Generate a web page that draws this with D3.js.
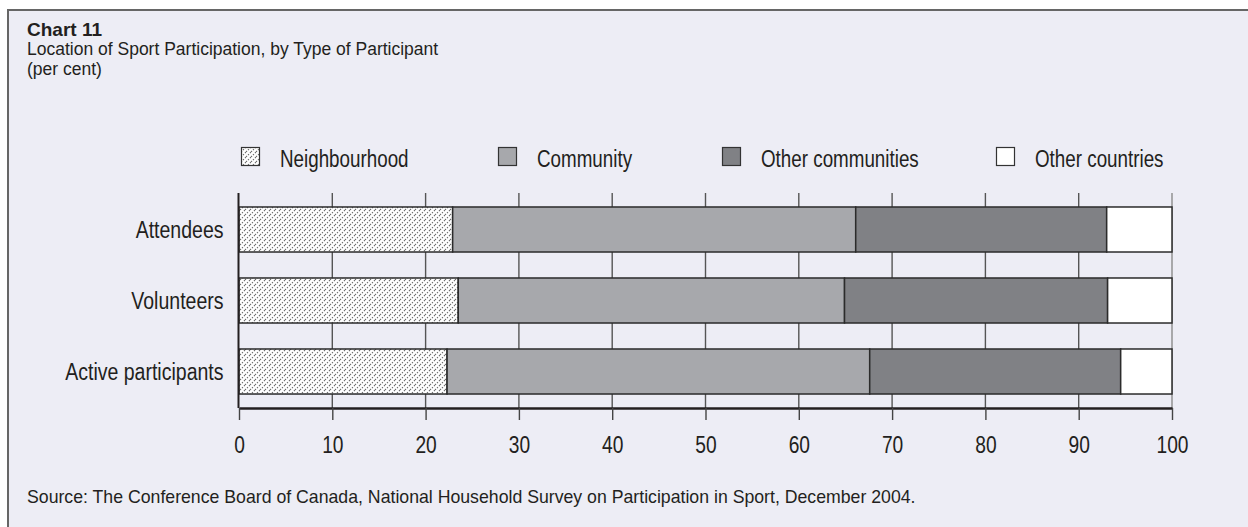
<!DOCTYPE html>
<html>
<head>
<meta charset="utf-8">
<script src="https://cdn.jsdelivr.net/npm/d3@7"></script>
<style>
  html, body { margin: 0; padding: 0; background: #fff; }
  svg { display: block; }
  text { font-family: "Liberation Sans", Arial, Helvetica, sans-serif; fill: #231f20; }
</style>
</head>
<body>
<svg id="chart" width="1248" height="527"></svg>
<script>
// Location of sport participation (per cent of each participant type)
const categories = ["Attendees", "Volunteers", "Active participants"];
const seriesNames = ["Neighbourhood", "Community", "Other communities", "Other countries"];
const neighbourhood    = [22.9, 23.5, 22.3];
const community        = [43.2, 41.4, 45.3];
const otherCommunities = [26.9, 28.2, 26.9];
const otherCountries   = [7.0, 6.9, 5.5];
const xTicks = [0, 10, 20, 30, 40, 50, 60, 70, 80, 90, 100];

const seriesValues = [neighbourhood, community, otherCommunities, otherCountries];
const fills = ["url(#hatch)", "#a7a8ac", "#808185", "#ffffff"];

const rows = categories.map((c, i) => {
  const r = { category: c };
  seriesNames.forEach((s, j) => { r[s] = seriesValues[j][i]; });
  return r;
});
const stacked = d3.stack().keys(seriesNames)(rows);

// Squeeze text horizontally to imitate a condensed typeface
function condense(sel, factor) {
  sel.each(function () {
    const w = this.getComputedTextLength();
    d3.select(this).attr("textLength", w * factor).attr("lengthAdjust", "spacingAndGlyphs");
  });
}

const svg = d3.select("#chart");

// Hatched fill for the neighbourhood segment
const defs = svg.append("defs");
const pat = defs.append("pattern")
  .attr("id", "hatch").attr("patternUnits", "userSpaceOnUse")
  .attr("width", 5).attr("height", 5);
pat.append("rect").attr("width", 5).attr("height", 5).attr("fill", "#fff");
pat.append("path").attr("d", "M0,5 L5,0 M-1,1 L1,-1 M4,6 L6,4")
  .attr("stroke", "#6a6a6a").attr("stroke-width", 1.1).attr("stroke-dasharray", "1.4,1.4");

// Panel background and frame
svg.append("rect").attr("x", 0).attr("y", 0).attr("width", 1248).attr("height", 527).attr("fill", "#fff");
svg.append("rect").attr("x", 8).attr("y", 10).attr("width", 1260).attr("height", 540)
  .attr("fill", "#ededf5").attr("stroke", "#666").attr("stroke-width", 2);

// Titles
svg.append("text").attr("x", 27).attr("y", 36)
  .attr("font-weight", "bold").attr("font-size", 19).text("Chart 11");
svg.append("text").attr("x", 27).attr("y", 55)
  .attr("font-size", 17.5).text("Location of Sport Participation, by Type of Participant");
svg.append("text").attr("x", 27).attr("y", 75)
  .attr("font-size", 17.5).text("(per cent)");

// Scales
const x = d3.scaleLinear().domain([0, 100]).range([239, 1172]);
const y = d3.scaleBand().domain(categories).range([193, 408])
  .paddingInner(0.366).paddingOuter(0.197);

// Vertical gridlines
svg.append("g").selectAll("line").data(xTicks.filter(t => t > 0)).join("line")
  .attr("x1", d => x(d)).attr("x2", d => x(d))
  .attr("y1", 193).attr("y2", 408)
  .attr("stroke", d => d === 100 ? "#8a8a8a" : "#555").attr("stroke-width", 1.4);

// Stacked bars
svg.append("g").selectAll("g").data(stacked).join("g")
  .attr("fill", (d, i) => fills[i])
  .selectAll("rect").data(d => d).join("rect")
  .attr("x", d => x(d[0]))
  .attr("width", d => x(d[1]) - x(d[0]))
  .attr("y", d => y(d.data.category))
  .attr("height", y.bandwidth())
  .attr("stroke", "#2b2b2b").attr("stroke-width", 1.5);

// Category axis
const yAxis = svg.append("g").attr("transform", "translate(238.5,0)")
  .call(d3.axisLeft(y).tickSize(0).tickPadding(15));
yAxis.attr("font-family", null).attr("font-size", null);
yAxis.select(".domain").attr("stroke", "#231f20").attr("stroke-width", 2)
  .attr("d", "M0,193V408");
yAxis.selectAll("text").attr("font-size", 23.5).attr("fill", "#231f20").attr("dy", "0.36em");
condense(yAxis.selectAll("text"), 0.83);

// Value axis
const xAxis = svg.append("g").attr("transform", "translate(0,408)")
  .call(d3.axisBottom(x).tickValues(xTicks).tickSize(12).tickSizeOuter(0).tickPadding(16));
xAxis.attr("font-family", null).attr("font-size", null);
xAxis.select(".domain").attr("stroke", "#231f20").attr("stroke-width", 2.5);
xAxis.selectAll(".tick line").attr("stroke", "#444").attr("stroke-width", 1.4);
xAxis.selectAll("text").attr("font-size", 24).attr("fill", "#231f20");
condense(xAxis.selectAll("text"), 0.8);

// Legend
const legendX = [241, 498, 722, 996];
const legend = svg.append("g").selectAll("g").data(seriesNames).join("g")
  .attr("transform", (d, i) => `translate(${legendX[i]},147)`);
legend.append("rect").attr("x", 0.5).attr("y", 0.5).attr("width", 18).attr("height", 18)
  .attr("fill", (d, i) => fills[i]).attr("stroke", "#333").attr("stroke-width", 1.2);
legend.append("text").attr("x", 39).attr("y", 20)
  .attr("font-size", 23.5).text(d => d);
condense(legend.selectAll("text"), 0.8);

// Source note
svg.append("text").attr("x", 27).attr("y", 503)
  .attr("font-size", 17.7)
  .text("Source: The Conference Board of Canada, National Household Survey on Participation in Sport, December 2004.");
</script>
</body>
</html>
